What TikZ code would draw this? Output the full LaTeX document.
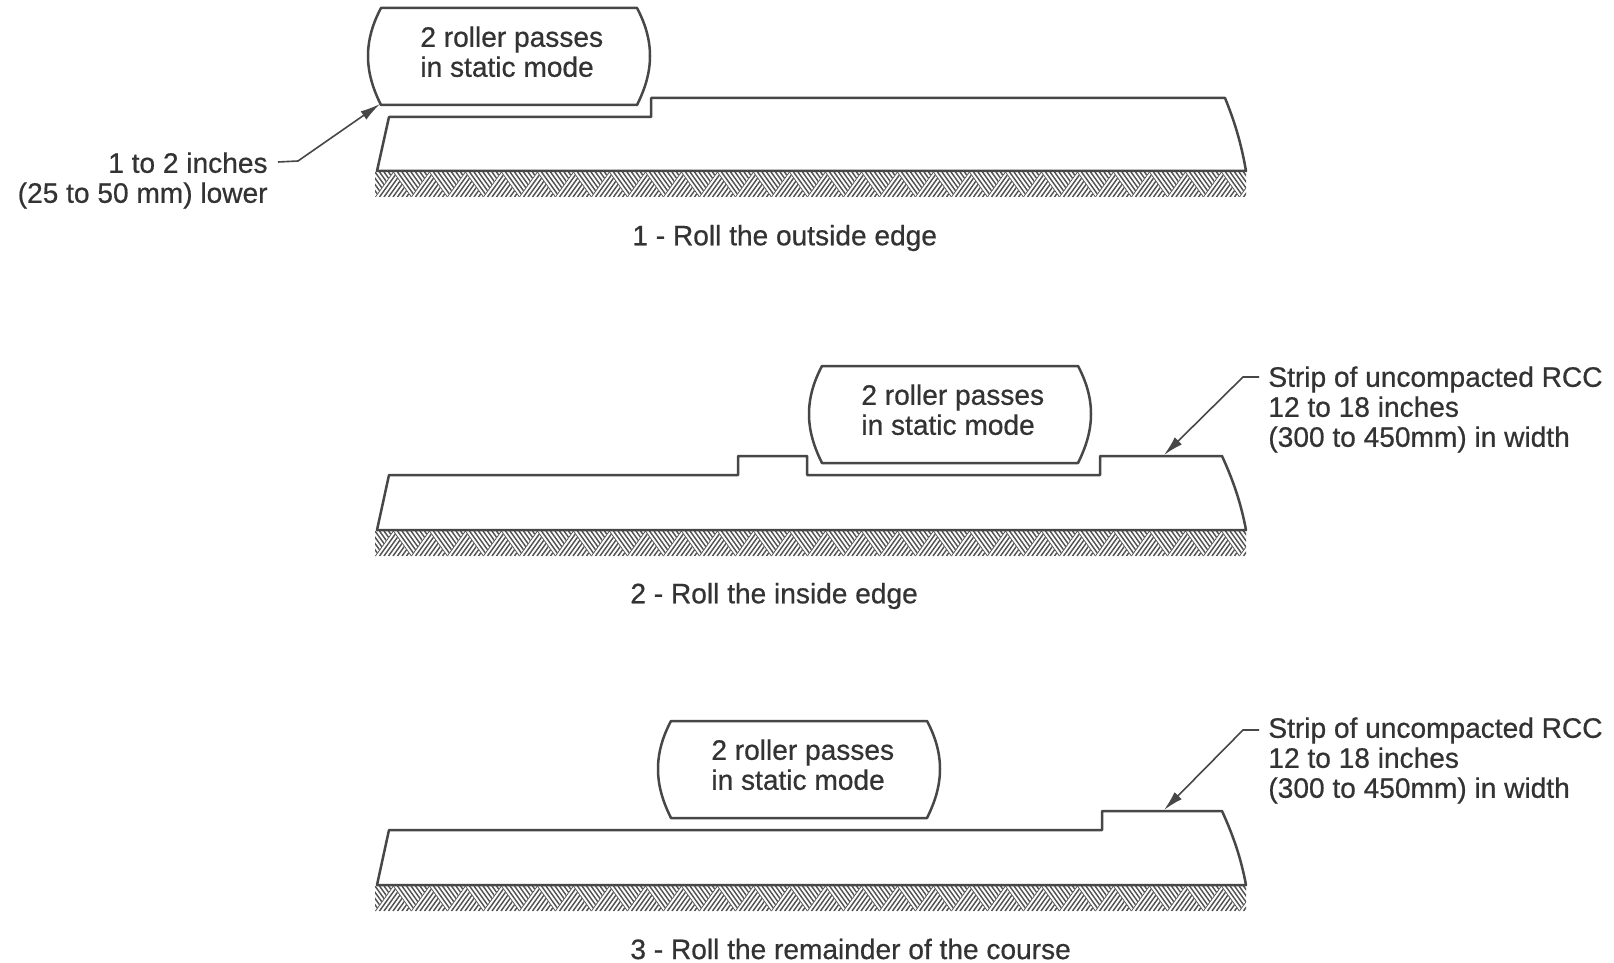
\documentclass[tikz,border=0pt]{standalone}
\usepackage{fontspec}
\setmainfont{Liberation Sans}[AutoFakeBold=0.6]
\usetikzlibrary{arrows.meta}
\tikzset{
 x=0.5pt,y=-0.5pt,
 outline/.style={draw=black!72,line width=1.25pt,line join=round},
 lbl/.style={font=\fontsize{14.05}{15}\selectfont\bfseries,text=black!80,inner sep=0pt,align=left},
 captext/.style={lbl,anchor=west},
 leader/.style={draw=black!72,line width=0.8pt,-{Latex[length=10pt,width=5pt]}},
 hatchline/.style={draw=black!68,line width=0.72pt}
}
% \hatchband{ytop}: triangles of parallel lines, alternately leaning each way
\newcommand{\hatchband}[1]{%
 \begin{scope}
 \clip (375,#1) rectangle (1246,#1+25);
 \foreach \k in {-1,...,24}{
   \pgfmathsetmacro{\xs}{375+\k*36}
   \begin{scope}
   \clip (\xs,#1+25) -- (\xs+18,#1) -- (\xs+36,#1+25) -- cycle;
   \foreach \j in {-4,...,8}{
     \draw[hatchline] (\xs+\j*4.5,#1+25) -- (\xs+18+\j*4.5,#1);
   }
   \end{scope}
   \begin{scope}
   \clip (\xs+18,#1) -- (\xs+54,#1) -- (\xs+36,#1+25) -- cycle;
   \foreach \j in {-4,...,8}{
     \draw[hatchline] (\xs+18+\j*4.5,#1) -- (\xs+36+\j*4.5,#1+25);
   }
   \end{scope}
 }
 \end{scope}}
\newcommand{\roller}[3]{% left x, top y, text offset
 \draw[outline,fill=white] (#1+13,#2) -- (#1+269,#2)
   .. controls (#1+277,#2+15) and (#1+282,#2+31) .. (#1+282,#2+48)
   .. controls (#1+282,#2+65) and (#1+277,#2+81) .. (#1+269,#2+97)
   -- (#1+13,#2+97)
   .. controls (#1+5,#2+81) and (#1,#2+65) .. (#1,#2+48)
   .. controls (#1,#2+31) and (#1+5,#2+15) .. (#1+13,#2) -- cycle;
 \node[lbl,anchor=north west] at (#1+#3,#2+18) {2 roller passes\\in static mode};}
\begin{document}
\begin{tikzpicture}
\useasboundingbox (0,0) rectangle (1614,963);
\fill[white] (0,0) rectangle (1614,963);
% Panel 1
\hatchband{172}
\draw[outline] (377,171) -- (1246,171)
  .. controls (1241,142) and (1234,120) .. (1225,98)
  -- (651,98) -- (651,117) -- (389,117) -- cycle;
\roller{368}{8}{52}
\node[lbl,anchor=north east,align=right] (low) at (268,152) {1 to 2 inches\\(25 to 50 mm) lower};
\coordinate (lowbend) at (298,161);
\coordinate (lowtip) at (380,104);
\draw[leader] (278,162) -- (lowbend) -- (lowtip);
\node[captext] (c1) at (632,238) {1 - Roll the outside edge};
% Panel 2
\hatchband{531}
\draw[outline] (377,530) -- (1246,530)
  .. controls (1241,503) and (1233,480) .. (1222,456)
  -- (1100,456) -- (1100,475) -- (807,475) -- (807,456)
  -- (738,456) -- (738,475) -- (389,475) -- cycle;
\roller{809}{366}{52}
\node[lbl,anchor=north west] (s2) at (1268,366) {Strip of uncompacted RCC\\12 to 18 inches\\(300 to 450mm) in width};
\coordinate (s2bend) at (1243,377);
\coordinate (s2tip) at (1164,455);
\draw[leader] (1259,377) -- (s2bend) -- (s2tip);
\node[captext] (c2) at (630,596) {2 - Roll the inside edge};
% Panel 3
\hatchband{886}
\draw[outline] (377,885) -- (1246,885)
  .. controls (1241,858) and (1233,835) .. (1222,811)
  -- (1102,811) -- (1102,830) -- (389,830) -- cycle;
\roller{658}{721}{53}
\node[lbl,anchor=north west] (s3) at (1268,717) {Strip of uncompacted RCC\\12 to 18 inches\\(300 to 450mm) in width};
\coordinate (s3bend) at (1243,730);
\coordinate (s3tip) at (1164,810);
\draw[leader] (1259,730) -- (s3bend) -- (s3tip);
\node[captext] (c3) at (630,949) {3 - Roll the remainder of the course};
\end{tikzpicture}
\end{document}
